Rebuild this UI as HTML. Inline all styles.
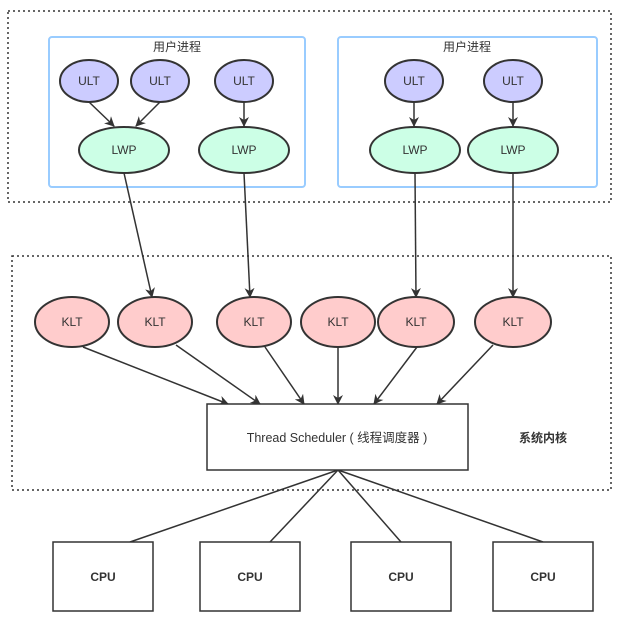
<!DOCTYPE html>
<html><head><meta charset="utf-8"><style>body{margin:0;background:#fff}svg{display:block}text{font-family:"Liberation Sans","Noto Sans CJK SC",sans-serif}</style></head><body>
<svg width="618" height="626" viewBox="0 0 618 626" xmlns="http://www.w3.org/2000/svg">
<defs><marker id="a" markerWidth="10" markerHeight="10" refX="9" refY="5" orient="auto" markerUnits="userSpaceOnUse"><path d="M0,0 L10,5 L0,10 L3,5 z" fill="#333"/></marker></defs>
<g fill="none" stroke="#333" stroke-width="1.5" stroke-dasharray="2,3">
<rect x="8" y="11" width="603" height="191"/>
<rect x="12" y="256" width="599" height="234"/>
</g>
<g fill="none" stroke="#99ccff" stroke-width="2">
<rect x="49" y="37" width="256" height="150" rx="3"/>
<rect x="338" y="37" width="259" height="150" rx="3"/>
</g>
<g font-size="12" text-anchor="middle" fill="#333">
<text x="177" y="51">用户进程</text><text x="467" y="51">用户进程</text>
</g>
<g stroke="#333" stroke-width="1.5" fill="none" marker-end="url(#a)">
<line x1="89" y1="102" x2="114" y2="126"/><line x1="160" y1="102" x2="136" y2="126"/>
<line x1="244" y1="102" x2="244" y2="126"/><line x1="414" y1="102" x2="414" y2="126"/><line x1="513" y1="102" x2="513" y2="126"/>
<line x1="124" y1="173" x2="152" y2="297"/><line x1="244" y1="173" x2="250" y2="297"/>
<line x1="415" y1="173" x2="416" y2="297"/><line x1="513" y1="173" x2="513" y2="297"/>
<line x1="83" y1="347" x2="228" y2="404"/><line x1="176" y1="345" x2="260" y2="404"/>
<line x1="265" y1="347" x2="304" y2="404"/><line x1="338" y1="347" x2="338" y2="404"/>
<line x1="417" y1="347" x2="374" y2="404"/><line x1="493" y1="345" x2="437" y2="404"/>
</g>
<g stroke="#333" stroke-width="1.5">
<line x1="338" y1="470" x2="130" y2="542"/><line x1="338" y1="470" x2="270" y2="542"/>
<line x1="338" y1="470" x2="401" y2="542"/><line x1="338" y1="470" x2="543" y2="542"/>
</g>
<g stroke="#333" stroke-width="2" fill="#ccccff">
<ellipse cx="89" cy="81" rx="29" ry="21"/><ellipse cx="160" cy="81" rx="29" ry="21"/><ellipse cx="244" cy="81" rx="29" ry="21"/>
<ellipse cx="414" cy="81" rx="29" ry="21"/><ellipse cx="513" cy="81" rx="29" ry="21"/>
</g>
<g stroke="#333" stroke-width="2" fill="#ccffe6">
<ellipse cx="124" cy="150" rx="45" ry="23"/><ellipse cx="244" cy="150" rx="45" ry="23"/>
<ellipse cx="415" cy="150" rx="45" ry="23"/><ellipse cx="513" cy="150" rx="45" ry="23"/>
</g>
<g stroke="#333" stroke-width="2" fill="#ffcccc">
<ellipse cx="72" cy="322" rx="37" ry="25"/><ellipse cx="155" cy="322" rx="37" ry="25"/><ellipse cx="254" cy="322" rx="37" ry="25"/>
<ellipse cx="338" cy="322" rx="37" ry="25"/><ellipse cx="416" cy="322" rx="38" ry="25"/><ellipse cx="513" cy="322" rx="38" ry="25"/>
</g>
<g stroke="#333" stroke-width="1.5" fill="#fff">
<rect x="207" y="404" width="261" height="66"/>
<rect x="53" y="542" width="100" height="69"/><rect x="200" y="542" width="100" height="69"/>
<rect x="351" y="542" width="100" height="69"/><rect x="493" y="542" width="100" height="69"/>
</g>
<g font-size="12" text-anchor="middle" fill="#333">
<text x="89" y="85">ULT</text><text x="160" y="85">ULT</text><text x="244" y="85">ULT</text><text x="414" y="85">ULT</text><text x="513" y="85">ULT</text>
<text x="124" y="154">LWP</text><text x="244" y="154">LWP</text><text x="415" y="154">LWP</text><text x="513" y="154">LWP</text>
<text x="72" y="326">KLT</text><text x="155" y="326">KLT</text><text x="254" y="326">KLT</text><text x="338" y="326">KLT</text><text x="416" y="326">KLT</text><text x="513" y="326">KLT</text>
<text x="337" y="442" font-size="12.5">Thread Scheduler ( 线程调度器 )</text>
<text x="543" y="442" font-weight="bold">系统内核</text>
<g font-weight="bold"><text x="103" y="581">CPU</text><text x="250" y="581">CPU</text><text x="401" y="581">CPU</text><text x="543" y="581">CPU</text></g>
</g>
</svg>
</body></html>
